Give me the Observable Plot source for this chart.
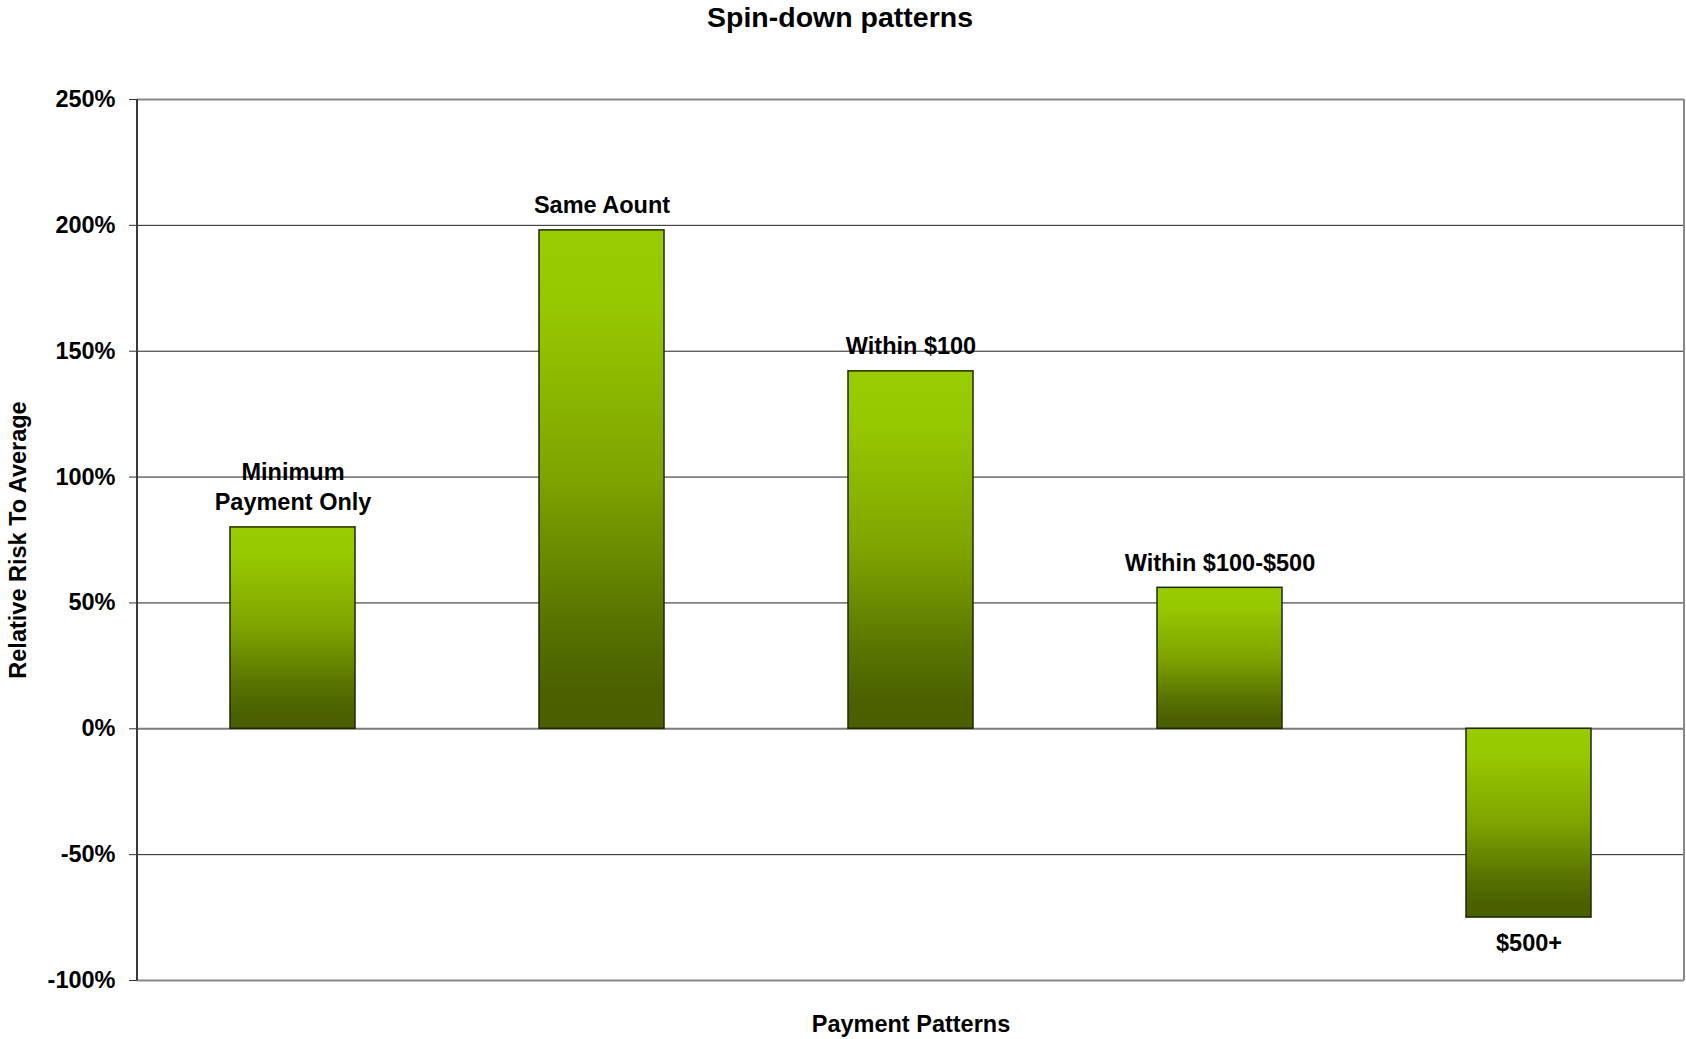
<!DOCTYPE html>
<html>
<head>
<meta charset="utf-8">
<script src="https://cdn.jsdelivr.net/npm/d3@7"></script>
<script src="https://cdn.jsdelivr.net/npm/@observablehq/plot@0.6"></script>
<style>
  html, body { margin: 0; padding: 0; background: #fff; }
  #chart { position: relative; width: 1686px; height: 1039px; font-family: "Liberation Sans", Arial, Helvetica, sans-serif; }
  #title { position: absolute; top: 0; left: 640px; width: 400px; text-align: center; font-weight: bold; font-size: 28.5px; line-height: 34px; color: #000; }
</style>
</head>
<body>
<div id="chart">
  <div id="title">Spin-down patterns</div>
</div>
<script>
// Relative risk (percent vs. average) by payment pattern
const categories = ["Minimum Payment Only", "Same Aount", "Within $100", "Within $100-$500", "$500+"];
const labels = ["Minimum\nPayment Only", "Same Aount", "Within $100", "Within $100-$500", "$500+"];
const values = [80, 198, 142, 56, -75];
const yTicks = [-100, -50, 0, 50, 100, 150, 200, 250];

const data = categories.map((c, i) => ({category: c, label: labels[i], value: values[i]}));
const pos = data.filter(d => d.value >= 0);
const neg = data.filter(d => d.value < 0);

const font = "Liberation Sans, Arial, Helvetica, sans-serif";

// Vertical edge of the plot frame, spanning the full y domain
function edge(side, color, width) {
  return (index, scales, values, dims) => {
    const y = scales.y;
    const x = side === "left" ? dims.marginLeft : dims.width - dims.marginRight;
    const g = d3.create("svg:g");
    g.append("line")
      .attr("x1", x).attr("x2", x)
      .attr("y1", y(250)).attr("y2", y(-100))
      .attr("stroke", color).attr("stroke-width", width);
    return g.node();
  };
}

const chart = Plot.plot({
  width: 1686,
  height: 1039,
  marginTop: 99,
  marginBottom: 59,
  marginLeft: 137,
  marginRight: 2,
  style: {fontFamily: font, fontSize: "23.5px", fontWeight: "bold", color: "#000", background: "#fff"},
  x: {domain: categories, paddingInner: 0.596, paddingOuter: 0.298, axis: null},
  y: {domain: [-100, 250], ticks: yTicks, tickFormat: d => d + "%"},
  marks: [
    () => {
      const svg = d3.create("svg:defs");
      const g = svg.append("linearGradient")
        .attr("id", "barFill").attr("x1", 0).attr("y1", 0).attr("x2", 0).attr("y2", 1);
      [[0, "#99cc00"], [0.14, "#97c900"], [0.5, "#7ea400"], [0.78, "#597400"], [0.92, "#4b6100"], [1, "#4a5f00"]]
        .forEach(([o, c]) => g.append("stop").attr("offset", o).attr("stop-color", c));
      return svg.node();
    },
    Plot.ruleY(yTicks.filter(t => t !== 0 && t !== 250 && t !== -100), {stroke: "#222", strokeWidth: 1}),
    Plot.ruleY([0], {stroke: "#7a7a7a", strokeWidth: 2}),
    Plot.ruleY([250, -100], {stroke: "#8a8a8a", strokeWidth: 2}),
    edge("right", "#8a8a8a", 2),
    Plot.barY(data, {x: "category", y: "value", fill: "url(#barFill)", stroke: "#1e2a00", strokeWidth: 1.5}),
    Plot.text(pos, {x: "category", y: "value", text: "label", dy: -17, lineAnchor: "bottom", lineHeight: 1.28, fontSize: 23.5, fontWeight: "bold", fill: "#000"}),
    Plot.text(neg, {x: "category", y: "value", text: "label", dy: 17, lineAnchor: "top", fontSize: 23.5, fontWeight: "bold", fill: "#000"}),
    Plot.axisY({ticks: yTicks, tickFormat: d => d + "%", tickSize: 8, tickPadding: 14, stroke: "#333",
      label: "Relative Risk To Average", labelAnchor: "center", labelArrow: "none", labelOffset: 128}),
    edge("left", "#3a3a3a", 2),
    Plot.text(["Payment Patterns"], {frameAnchor: "bottom", dy: 51, fontSize: 23.5, fontWeight: "bold", fill: "#000"})
  ]
});

document.getElementById("chart").appendChild(chart);
</script>
</body>
</html>
